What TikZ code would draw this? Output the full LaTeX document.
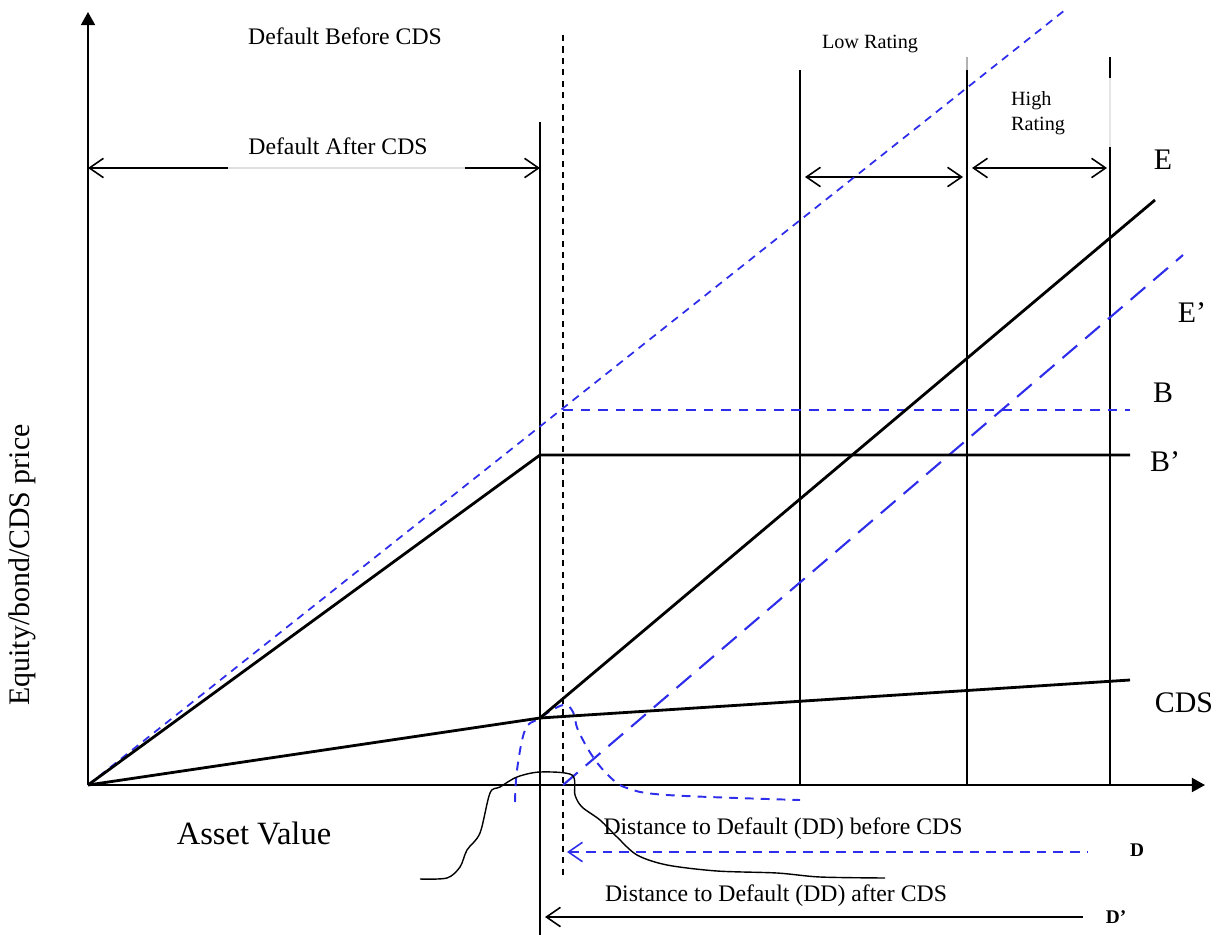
\documentclass[tikz,border=0pt]{standalone}
\usepackage{fontspec}
\setmainfont{Liberation Serif}
\usetikzlibrary{arrows.meta,positioning,calc}
\definecolor{ddblue}{RGB}{45,45,235}
\newcommand{\fs}[1]{\fontsize{#1}{#1}\selectfont}

\begin{document}
\begin{tikzpicture}[x=0.02cm,y=-0.02cm,
    axis/.style={line width=1.1pt,-{Triangle[length=7.5pt,width=8pt]}},
    payoff/.style={line width=1.6pt},
    rating/.style={line width=1.1pt},
    span/.style={line width=0.9pt,{Straight Barb[length=8pt,width=11pt]}-{Straight Barb[length=8pt,width=11pt]}},
    back/.style={line width=0.9pt,{Straight Barb[length=8pt,width=11pt]}-},
    lbl/.style={inner sep=0pt,font=\fs{13.5}},
    big/.style={inner sep=0pt,font=\fs{17}}]
    \useasboundingbox (0,0) rectangle (1222,935);

    % Points
    \coordinate (O) at (88,785);
    \coordinate (ytop) at (88,12);
    \coordinate (xend) at (1205,785);
    \coordinate (K) at (540,455);
    \coordinate (C) at (540,718);

    % Axes
    \draw[axis] (O) -- (ytop);
    \draw[axis] (O) -- (xend);
    \node[big, rotate=90] (ylab) at (22,565) {Equity/bond/CDS price};
    \node[big, font=\fs{18.5}] (xlab) at (254,833) {Asset Value};

    % Default barriers
    \draw[rating] (540,122) -- (540,935);
    \draw[line width=0.9pt, dash pattern=on 3.5pt off 3pt] (563,35) -- (563,875);
    \node[lbl] (before) at (345,36) {Default Before CDS};
    \node[lbl] (after) at (338,146) {Default After CDS};
    \coordinate (a1) at (88,168);
    \coordinate (a2) at (540,168);
    \draw[span] (a1) -- (a2);
    \draw[gray!25, line width=1.1pt] (228,168) -- (465,168);

    % Rating bands
    \draw[rating] (800,70) -- (800,785);
    \draw[rating, gray!60] (967,57) -- (967,70);
    \draw[rating] (967,70) -- (967,785);
    \draw[rating] (1110,57) -- (1110,78);
    \draw[rating, gray!20] (1110,78) -- (1110,147);
    \draw[rating] (1110,147) -- (1110,785);
    \node[lbl, font=\fs{11.5}] (low) at (870,44) {Low Rating};
    \node[lbl, font=\fs{11.5}, align=left] (high) at (1038,113) {High\\[3pt]Rating};
    \draw[span] (805,177) -- (963,177);
    \draw[span] (972,168) -- (1107,168);

    % Blue curves (before CDS)
    \draw[ddblue, line width=1pt, dash pattern=on 4.5pt off 3.5pt] (O) -- (1065,10);
    \draw[ddblue, line width=1pt, dash pattern=on 5.5pt off 4.5pt] (563,410) -- (1130,410);
    \draw[ddblue, line width=1.2pt, dash pattern=on 11pt off 6pt] (563,785) -- (1183,255);
    \draw[ddblue, line width=1.1pt, dash pattern=on 5pt off 4pt] plot[smooth, tension=0.6] coordinates
        {(515,802) (517,770) (525,730) (538,719) (563,705) (573,712) (578,730) (593,757) (610,777) (627,788) (667,795) (800,800)};

    % Black payoffs (after CDS)
    \draw[payoff] (O) -- (K) -- (1130,455);
    \draw[payoff] (O) -- (C) -- (1130,680);
    \draw[payoff] (C) -- (1155,200);
    \node[big] (E) at (1163,160) {E};
    \node[big] (Ep) at (1192,313) {E’};
    \node[big] (B) at (1163,393) {B};
    \node[big] (Bp) at (1165,462) {B’};
    \node[big] (cds) at (1184,703) {CDS};

    % Distribution
    \draw[line width=0.8pt] plot[smooth, tension=0.5] coordinates
        {(420,879) (447,878) (460,867) (467,850) (480,833) (490,793) (500,787) (517,777) (540,772) (572,775) (575,795) (582,807) (600,820) (617,837) (637,855) (667,865) (717,871) (777,873) (820,877) (885,878)};

    % Distance to default
    \node[lbl] (ddb) at (783,829) {Distance to Default (DD) before CDS};
    \draw[back, ddblue, dash pattern=on 5.5pt off 4pt] (567,852) -- (1088,852);
    \node[lbl, font=\bfseries\fs{11}] (D) at (1137,850) {D};
    \node[lbl] (dda) at (776,896) {Distance to Default (DD) after CDS};
    \draw[back] (545,917) -- (1083,917);
    \node[lbl, font=\bfseries\fs{11}] (Dp) at (1116,917) {D’};
\end{tikzpicture}
\end{document}
